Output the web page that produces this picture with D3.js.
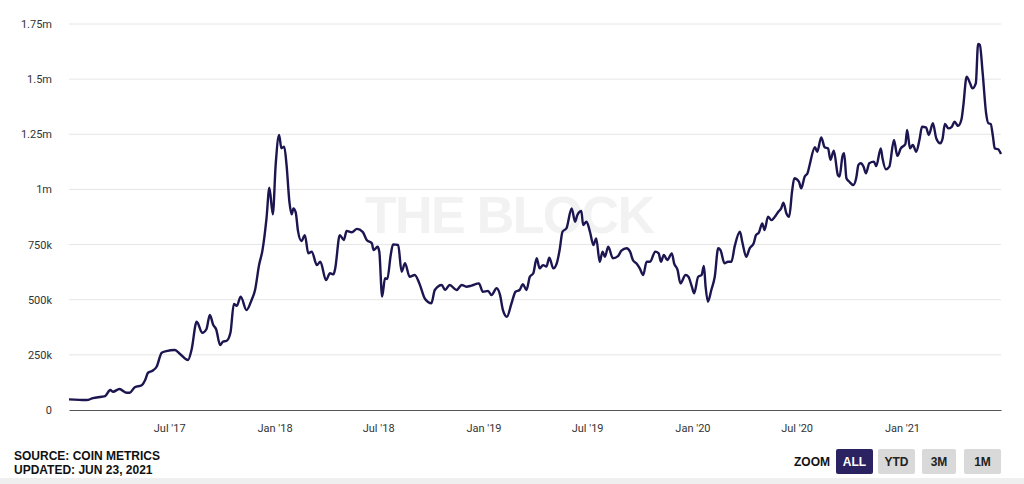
<!DOCTYPE html>
<html>
<head>
<meta charset="utf-8">
<script src="https://cdn.jsdelivr.net/npm/d3@7"></script>
<style>
  body { margin: 0; background: #fff; }
  svg { display: block; }
  .tick text { font-family: Roboto, "Liberation Sans", sans-serif; font-size: 11px; fill: #333; }
  .foot { font-family: "Liberation Sans", Arial, sans-serif; font-weight: bold; font-size: 12px; fill: #111; }
</style>
</head>
<body>
<div id="chart"></div>
<script>
// Active addresses (7d avg), thousands
var dates = [
  "2017-01-07","2017-01-26","2017-02-07","2017-02-18","2017-03-05","2017-03-11","2017-03-20","2017-03-25",
  "2017-04-05","2017-04-18","2017-04-23","2017-05-02","2017-05-14","2017-05-20","2017-05-25","2017-06-02",
  "2017-06-09","2017-06-18","2017-06-26","2017-07-11","2017-07-20","2017-08-03","2017-08-09","2017-08-18",
  "2017-08-28","2017-09-04","2017-09-10","2017-09-16","2017-09-21","2017-09-28","2017-10-03","2017-10-09",
  "2017-10-16","2017-10-22","2017-10-27","2017-11-03","2017-11-13","2017-11-22","2017-11-28","2017-12-05",
  "2017-12-11","2017-12-18","2017-12-23","2017-12-29","2018-01-03","2018-01-09","2018-01-13","2018-01-18",
  "2018-01-22","2018-01-27","2018-01-31","2018-02-03","2018-02-07","2018-02-11","2018-02-17","2018-02-23",
  "2018-03-01","2018-03-07","2018-03-16","2018-03-22","2018-04-01","2018-04-08","2018-04-14","2018-04-17",
  "2018-04-25","2018-05-02","2018-05-07","2018-05-16","2018-05-25","2018-06-04","2018-06-11","2018-06-20",
  "2018-06-23","2018-06-30","2018-07-03","2018-07-08","2018-07-13","2018-07-17","2018-07-23","2018-07-27",
  "2018-08-05","2018-08-11","2018-08-17","2018-08-25","2018-09-03","2018-09-11","2018-09-21","2018-10-02",
  "2018-10-08","2018-10-20","2018-10-26","2018-11-03","2018-11-15","2018-11-24","2018-12-02","2018-12-11",
  "2018-12-24","2018-12-31","2019-01-09","2019-01-15","2019-01-24","2019-01-30","2019-02-04","2019-02-11",
  "2019-02-19","2019-02-26","2019-03-05","2019-03-11","2019-03-17","2019-03-23","2019-03-29","2019-04-04",
  "2019-04-09","2019-04-15","2019-04-21","2019-04-26","2019-05-03","2019-05-09","2019-05-14","2019-05-19",
  "2019-05-26","2019-06-04","2019-06-10","2019-06-14","2019-06-21","2019-06-24","2019-06-30","2019-07-06",
  "2019-07-12","2019-07-17","2019-07-23","2019-07-28","2019-08-01","2019-08-07","2019-08-15","2019-08-24",
  "2019-08-30","2019-09-08","2019-09-14","2019-09-19","2019-09-25","2019-10-01","2019-10-07","2019-10-13",
  "2019-10-19","2019-10-28","2019-11-03","2019-11-07","2019-11-12","2019-11-18","2019-11-26","2019-11-30",
  "2019-12-06","2019-12-11","2019-12-20","2019-12-25","2019-12-31","2020-01-04","2020-01-11","2020-01-17",
  "2020-01-21","2020-01-24","2020-01-28","2020-02-03","2020-02-09","2020-02-15","2020-02-19","2020-02-26",
  "2020-03-03","2020-03-09","2020-03-15","2020-03-24","2020-03-28","2020-04-04","2020-04-10","2020-04-17",
  "2020-04-21","2020-04-26","2020-05-02","2020-05-06","2020-05-12","2020-05-18","2020-05-24","2020-05-30",
  "2020-06-04","2020-06-08","2020-06-13","2020-06-18","2020-06-23","2020-06-27","2020-07-05","2020-07-09",
  "2020-07-15","2020-07-20","2020-07-23","2020-08-02","2020-08-06","2020-08-13","2020-08-19","2020-08-25",
  "2020-08-29","2020-09-04","2020-09-11","2020-09-14","2020-09-19","2020-09-22","2020-09-26","2020-10-01",
  "2020-10-08","2020-10-13","2020-10-17","2020-10-21","2020-10-26","2020-10-30","2020-11-05","2020-11-13",
  "2020-11-17","2020-11-25","2020-11-28","2020-12-04","2020-12-10","2020-12-18","2020-12-24","2020-12-30",
  "2021-01-07","2021-01-10","2021-01-15","2021-01-20","2021-01-26","2021-02-01","2021-02-05","2021-02-12",
  "2021-02-17","2021-02-24","2021-03-02","2021-03-09","2021-03-13","2021-03-17","2021-03-23","2021-03-29",
  "2021-04-03","2021-04-09","2021-04-15","2021-04-18","2021-04-24","2021-04-30","2021-05-04","2021-05-10",
  "2021-05-14","2021-05-17","2021-05-22","2021-05-28","2021-06-01","2021-06-05","2021-06-09","2021-06-12",
  "2021-06-18","2021-06-23"
];
var values = [
  48, 46, 45, 54, 60, 63, 91, 83,
  95, 78, 78, 103, 112, 136, 169, 178,
  196, 260, 267, 272, 254, 227, 272, 400,
  350, 366, 431, 385, 366, 295, 310, 313,
  350, 481, 472, 514, 453, 499, 544, 657,
  725, 869, 1008, 887, 1111, 1247, 1187, 1194,
  1111, 944, 887, 914, 896, 812, 766, 793,
  710, 718, 657, 672, 589, 620, 615, 642,
  793, 771, 812, 806, 821, 808, 771, 756,
  725, 740, 718, 514, 597, 594, 703, 751,
  748, 627, 665, 604, 612, 574, 503, 484,
  544, 567, 544, 567, 544, 567, 559, 564,
  574, 536, 540, 521, 552, 521, 453, 423,
  484, 536, 544, 570, 544, 604, 620, 688,
  642, 657, 650, 691, 642, 665, 725, 808,
  824, 914, 854, 884, 902, 839, 854, 808,
  748, 778, 672, 718, 695, 740, 688, 698,
  722, 733, 718, 680, 665, 642, 612, 672,
  672, 718, 710, 672, 703, 680, 710, 665,
  635, 574, 612, 604, 559, 529, 604, 612,
  653, 559, 491, 544, 604, 733, 725, 665,
  672, 672, 744, 808, 763, 695, 733, 756,
  793, 804, 846, 816, 876, 861, 876, 899,
  914, 940, 892, 876, 990, 1051, 1035, 1005,
  1058, 1073, 1103, 1191, 1171, 1236, 1191, 1186,
  1134, 1176, 1066, 1058, 1149, 1164, 1051, 1035,
  1020, 1051, 1111, 1119, 1103, 1073, 1119, 1126,
  1106, 1186, 1141, 1091, 1103, 1224, 1152, 1186,
  1206, 1270, 1186, 1202, 1171, 1231, 1284, 1281,
  1247, 1300, 1231, 1209, 1231, 1297, 1277, 1284,
  1307, 1288, 1318, 1375, 1511, 1481, 1458, 1481,
  1659, 1655, 1527, 1345, 1300, 1297, 1239, 1186,
  1182, 1161
];
var yTicks = [0, 250, 500, 750, 1000, 1250, 1500, 1750];
var yTickLabels = ["0", "250k", "500k", "750k", "1m", "1.25m", "1.5m", "1.75m"];
var zoomButtons = ["ALL", "YTD", "3M", "1M"];
var footLines = ["SOURCE: COIN METRICS", "UPDATED: JUN 23, 2021"];

var svgWidth = 1024;
var svgHeight = 484;
var margin = { top: 24, right: 23, bottom: 74, left: 69 };
var width = svgWidth - margin.left - margin.right;
var height = svgHeight - margin.top - margin.bottom;

var parseDate = d3.timeParse("%Y-%m-%d");
var data = dates.map(function(d, i) { return { date: parseDate(d), value: values[i] }; });

var svg = d3.select("#chart")
  .append("svg")
  .attr("width", svgWidth)
  .attr("height", svgHeight);

// light band at the very bottom
svg.append("rect")
  .attr("x", 0).attr("y", 478)
  .attr("width", svgWidth).attr("height", 6)
  .attr("fill", "#efefef");

var chartGroup = svg.append("g")
  .attr("transform", `translate(${margin.left}, ${margin.top})`);

var xScale = d3.scaleTime()
  .domain([parseDate("2017-01-07"), parseDate("2021-06-23")])
  .range([0, width]);

var yScale = d3.scaleLinear()
  .domain([0, 1750])
  .range([height, 0]);

// gridlines
chartGroup.append("g")
  .selectAll("line")
  .data(yTicks.slice(1))
  .enter()
  .append("line")
  .attr("x1", 0)
  .attr("x2", width)
  .attr("y1", d => yScale(d))
  .attr("y2", d => yScale(d))
  .attr("stroke", "#e6e6e6")
  .attr("stroke-width", 1);

// watermark
chartGroup.append("text")
  .attr("x", 510 - margin.left)
  .attr("y", 233 - margin.top)
  .attr("text-anchor", "middle")
  .attr("font-family", "'Liberation Sans', Arial, sans-serif")
  .attr("font-weight", "bold")
  .attr("font-size", 52)
  .attr("textLength", 290)
  .attr("fill", "#f2f2f2")
  .text("THE BLOCK");

// y axis
var leftAxis = d3.axisLeft(yScale)
  .tickValues(yTicks)
  .tickSize(0)
  .tickPadding(17)
  .tickFormat((d, i) => yTickLabels[i]);

chartGroup.append("g")
  .call(leftAxis)
  .call(g => g.select(".domain").remove());

// x axis
var bottomAxis = d3.axisBottom(xScale)
  .tickValues([
    parseDate("2017-07-01"), parseDate("2018-01-01"), parseDate("2018-07-01"), parseDate("2019-01-01"),
    parseDate("2019-07-01"), parseDate("2020-01-01"), parseDate("2020-07-01"), parseDate("2021-01-01")
  ])
  .tickSize(0)
  .tickPadding(14)
  .tickFormat(d3.timeFormat("%b '%y"));

chartGroup.append("g")
  .attr("transform", `translate(0, ${height})`)
  .call(bottomAxis)
  .call(g => g.select(".domain").attr("stroke", "#555").attr("stroke-width", 1.2));

// the line
var line = d3.line()
  .x(d => xScale(d.date))
  .y(d => yScale(d.value))
  .curve(d3.curveMonotoneX);

chartGroup.append("path")
  .datum(data)
  .attr("fill", "none")
  .attr("stroke", "#1b1550")
  .attr("stroke-width", 2.4)
  .attr("stroke-linejoin", "round")
  .attr("d", line);

// source text
svg.selectAll(".foot-line")
  .data(footLines)
  .enter()
  .append("text")
  .attr("class", "foot foot-line")
  .attr("x", 14)
  .attr("y", (d, i) => 460 + i * 13.5)
  .text(d => d);

// zoom buttons
svg.append("text")
  .attr("class", "foot")
  .attr("x", 830)
  .attr("y", 466)
  .attr("text-anchor", "end")
  .text("ZOOM");

var btnX = [836, 878, 922, 964];
var btnW = [37, 37, 34, 37];
var btn = svg.selectAll(".btn")
  .data(zoomButtons)
  .enter()
  .append("g")
  .attr("class", "btn")
  .attr("transform", (d, i) => `translate(${btnX[i]}, 449)`);

btn.append("rect")
  .attr("width", (d, i) => btnW[i])
  .attr("height", 25)
  .attr("rx", 2)
  .attr("fill", (d, i) => i === 0 ? "#2b2262" : "#d9d9d9");

btn.append("text")
  .attr("class", "foot")
  .attr("x", (d, i) => btnW[i] / 2)
  .attr("y", 17)
  .attr("text-anchor", "middle")
  .style("fill", (d, i) => i === 0 ? "#fff" : "#222")
  .text(d => d);
</script>
</body>
</html>
